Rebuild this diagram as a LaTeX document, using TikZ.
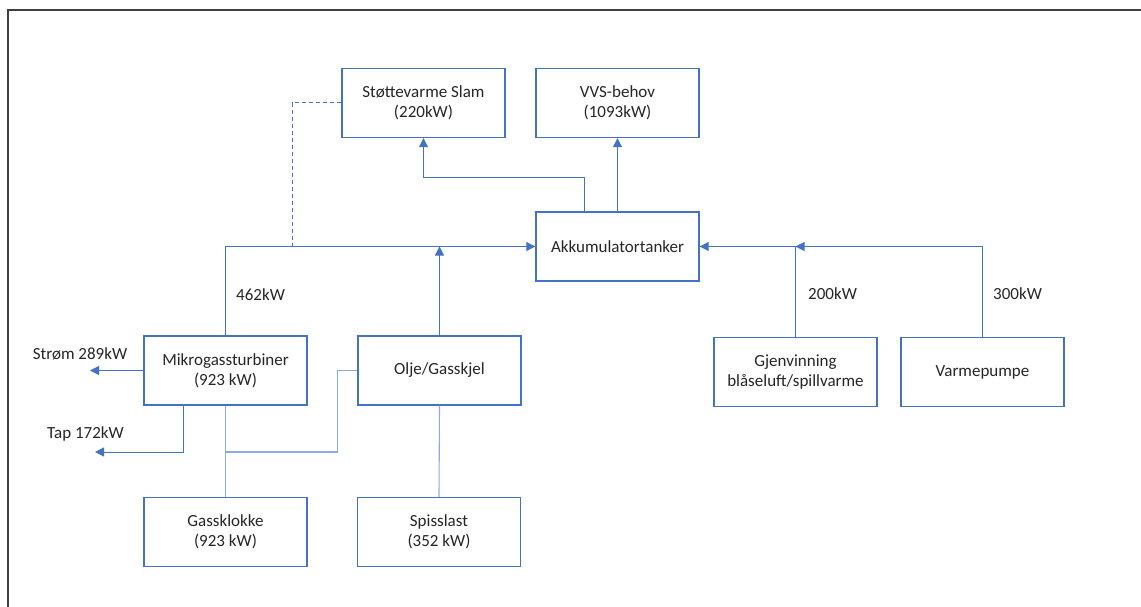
\documentclass[tikz,border=0pt]{standalone}
\usepackage{fontspec}
\setmainfont{Carlito}
\usetikzlibrary{arrows.meta}
\definecolor{boxblue}{HTML}{4472C4}
\definecolor{lineblue}{HTML}{8FAADC}
\definecolor{txt}{HTML}{262626}
\begin{document}
\begin{tikzpicture}[x=1pt,y=-1pt,
  box/.style={draw=boxblue,line width=1.4pt,fill=white,minimum width=163pt,minimum height=69pt,
    inner sep=0pt,align=center,text=txt,font=\fontsize{17}{20}\selectfont},
  conn/.style={draw=lineblue,line width=1.1pt},
  arr/.style={draw=boxblue,line width=1.0pt,-{Triangle[length=9pt,width=9pt]}},
  lbl/.style={text=txt,font=\fontsize{17}{20}\selectfont,inner sep=0pt}]
\useasboundingbox (0,0) rectangle (1141,607);
\draw[line width=2pt,draw=black!75] (8,607) -- (8,10) -- (1141,10);

\node[box] (slam) at (423.5,103) {Støttevarme Slam\\(220kW)};
\node[box] (vvs) at (617.5,103) {VVS-behov\\(1093kW)};
\node[box] (akk) at (617.5,246.5) {Akkumulatortanker};
\node[box] (mikro) at (225.5,370.5) {Mikrogassturbiner\\(923 kW)};
\node[box] (olje) at (439.5,370.5) {Olje/Gasskjel};
\node[box] (gjen) at (795.5,372) {Gjenvinning\\blåseluft/spillvarme};
\node[box] (varme) at (982.5,372) {Varmepumpe};
\node[box] (gass) at (225.5,532) {Gassklokke\\(923 kW)};
\node[box] (spiss) at (439,532) {Spisslast\\(352 kW)};

\coordinate (dashend) at (292,246.5);
\coordinate (stromend) at (90,370.5);
\coordinate (tapend) at (95,452);
\coordinate (jn) at (225.5,452);
\coordinate (slamturn) at (584,178);

% left bus
\draw[arr] (mikro.north) |- (akk.west);
\draw[arr] (olje.north) -- (olje.north |- akk.west);
\draw[conn,dash pattern=on 4pt off 3pt,draw=boxblue,line width=1pt] (slam.west) -| (dashend);
% outputs from accumulator
\draw[arr] (slamturn |- akk.north) -- (slamturn) -| (slam.south);
\draw[arr] (akk.north) -- (vvs.south);
% right side
\draw[arr] (varme.north) |- (gjen.north |- akk.east);
\draw[arr] (gjen.north) |- (akk.east);
% micro turbine outputs
\draw[arr] (mikro.west) -- (stromend);
\draw[arr] ([xshift=-42.5pt]mikro.south) |- (tapend);
\draw[conn] (mikro.south) -- (gass.north);
\draw[conn] (jn) -| ([xshift=-19.5pt]olje.west) -- (olje.west);
\draw[conn] (olje.south) -- (spiss.north);

% labels
\node[lbl,anchor=west] (l462) at (236,295) {462kW};
\node[lbl,anchor=west] (l200) at (808,293.5) {200kW};
\node[lbl,anchor=west] (l300) at (993,293.5) {300kW};
\node[lbl] (lstrom) at (80,353.5) {Strøm 289kW};
\node[lbl] (ltap) at (85.5,433.5) {Tap 172kW};
\end{tikzpicture}
\end{document}
